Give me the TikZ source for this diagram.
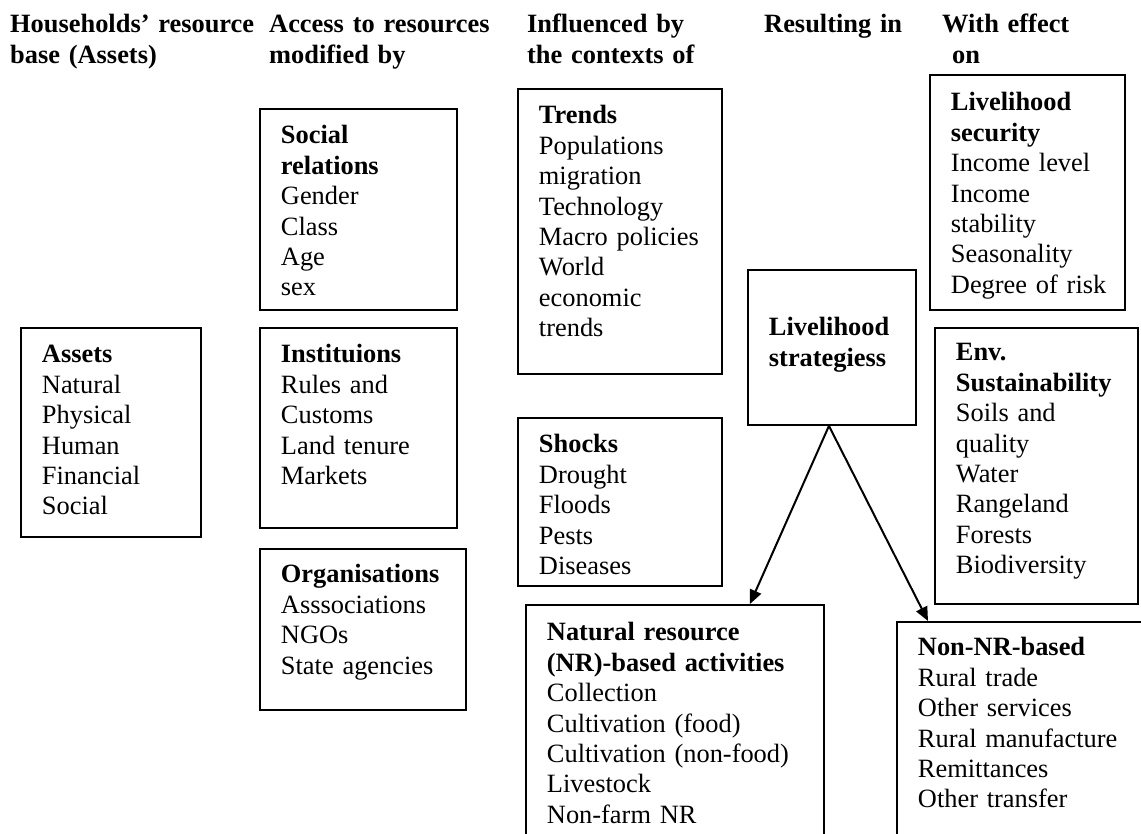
\documentclass[tikz,border=0pt]{standalone}
\usepackage{fontspec}
\setmainfont{Liberation Serif}
\usetikzlibrary{positioning, arrows.meta, calc}

\begin{document}
\begin{tikzpicture}[x=1pt, y=-1pt,
    box/.style={draw, line width=1.9pt, anchor=north west, inner xsep=21pt, inner ysep=0pt,
      align=left, text height=35pt, font=\fontsize{26.4}{30.4}\selectfont},
    head/.style={anchor=base west, inner sep=0pt, align=left, text width=300pt,
      font=\bfseries\fontsize{26.4}{30.4}\selectfont},
    arr/.style={line width=2pt, -{Triangle[length=14pt, width=12pt]}}]
    \useasboundingbox (0,0) rectangle (1141,834);
    \clip (0,0) rectangle (1141,834);

    \node[head] (hassets) at (10,33) {Households' resource\\base (Assets)};
    \node[head] (haccess) at (269,33) {Access to resources\\modified by};
    \node[head] (hcontext) at (527,33) {Influenced by\\the contexts of};
    \node[head] (hresult) at (764,33) {Resulting in};
    \node[head] (heffect) at (942,33) {With effect\\\hspace*{10pt}on};

    \node[box, text width=138pt, text depth=174pt] (assets) at (20,327) {%
      \textbf{Assets}\\Natural\\Physical\\Human\\Financial\\Social};

    \node[box, text width=155pt, text depth=166pt] (social) at (259,108) {%
      \textbf{Social}\\\textbf{relations}\\Gender\\Class\\Age\\sex};
    \node[box, text width=155pt, text depth=165pt] (inst) at (259,327) {%
      \textbf{Instituions}\\Rules and\\Customs\\Land tenure\\Markets};
    \node[box, text width=164pt, text height=34pt, text depth=127pt] (org) at (259,548) {%
      \textbf{Organisations}\\Asssociations\\NGOs\\State agencies};

    \node[box, text width=162pt, text depth=250pt] (trends) at (517,88) {%
      \textbf{Trends}\\Populations\\migration\\Technology\\Macro~policies\\World\\economic\\trends};
    \node[box, text width=162pt, text depth=133pt] (shocks) at (517,417) {%
      \textbf{Shocks}\\Drought\\Floods\\Pests\\Diseases};

    \node[box, text width=126pt, text height=66pt, text depth=89pt] (strat) at (747,269) {%
      \textbf{Livelihood}\\\textbf{strategiess}};

    \node[box, text width=153pt, text height=36pt, text depth=199pt] (secur) at (929,74) {%
      \textbf{Livelihood}\\\textbf{security}\\Income level\\Income\\stability\\Seasonality\\Degree~of~risk};
    \node[box, text width=161pt, text height=33pt, text depth=243pt] (env) at (934,327) {%
      \textbf{Env.}\\\textbf{Sustainability}\\Soils and\\quality\\Water\\Rangeland\\Forests\\Biodiversity};

    \node[box, text width=256pt, text height=36pt, text depth=240pt] (nr) at (525,604) {%
      \textbf{Natural resource}\\\textbf{(NR)-based activities}\\Collection\\Cultivation (food)\\Cultivation~(non-food)\\Livestock\\Non-farm NR};
    \node[box, text width=218pt, text height=34pt, text depth=250pt] (nonnr) at (896,621) {%
      \textbf{Non-NR-based}\\Rural trade\\Other services\\Rural manufacture\\Remittances\\Other transfer};

    \draw[arr] ([xshift=-3pt]strat.south) -- ($(nr.north west)!0.75!(nr.north east)$);
    \draw[arr] ([xshift=-3pt]strat.south) -- ([xshift=32pt]nonnr.north west);
\end{tikzpicture}
\end{document}
